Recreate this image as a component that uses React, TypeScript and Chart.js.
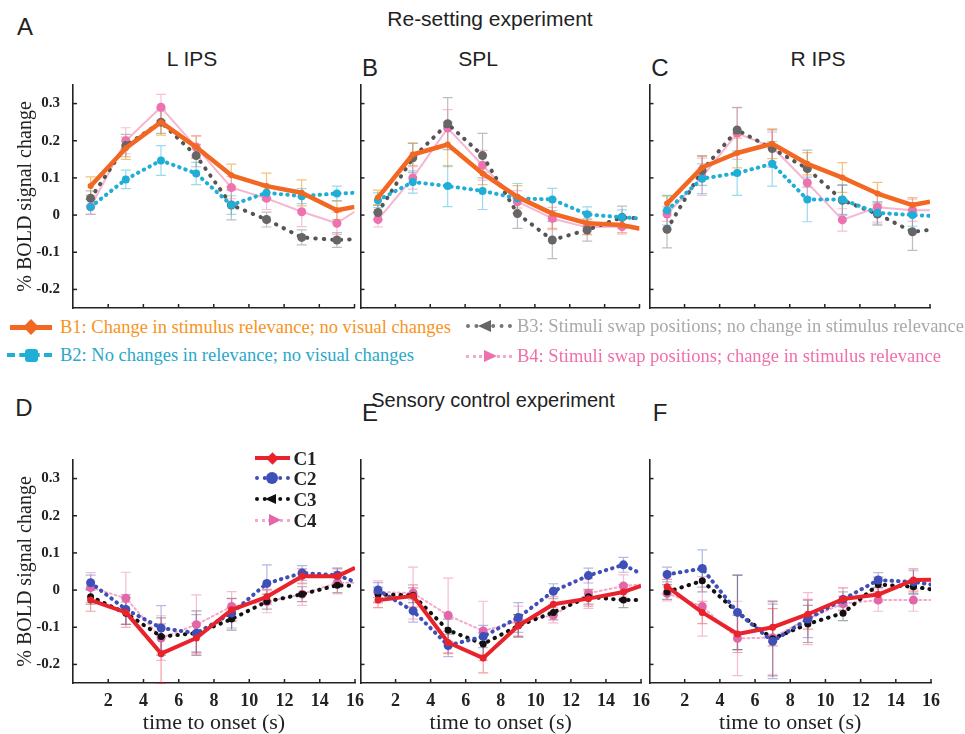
import React, { useEffect, useRef } from "react";
import { Chart, registerables } from "chart.js";
Chart.register(...registerables);

const X_POINTS = [1, 3, 5, 7, 9, 11, 13, 15, 16];
const X_TICKS = [2, 4, 6, 8, 10, 12, 14, 16];
const X_TICK_LABELS = ["2", "4", "6", "8", "10", "12", "14", "16"];
const Y_TICKS = [-0.2, -0.1, 0, 0.1, 0.2, 0.3];
const Y_TICK_LABELS = ["-0.2", "-0.1", "0", "0.1", "0.2", "0.3"];
const Y_MIN = -0.25;
const Y_MAX = 0.35;

// Re-setting experiment — panel A (L IPS)
const A_B1 = [0.078, 0.18, 0.25, 0.183, 0.107, 0.078, 0.06, 0.013, 0.022];
const A_B2 = [0.022, 0.096, 0.147, 0.112, 0.027, 0.06, 0.051, 0.058, 0.06];
const A_B3 = [0.045, 0.187, 0.25, 0.16, 0.027, -0.012, -0.06, -0.067, -0.065];
const A_B4 = [0.022, 0.2, 0.29, 0.183, 0.074, 0.045, 0.009, -0.022, 0.009];
const A_B1_ERR = [0.025, 0.03, 0.035, 0.03, 0.03, 0.035, 0.035, 0.025];
const A_B2_ERR = [0.02, 0.025, 0.04, 0.03, 0.025, 0.02, 0.02, 0.02];
const A_B3_ERR = [0.02, 0.03, 0.03, 0.03, 0.04, 0.02, 0.02, 0.02];
const A_B4_ERR = [0.02, 0.035, 0.035, 0.03, 0.03, 0.03, 0.04, 0.03];

// panel B (SPL)
const B_B1 = [0.047, 0.163, 0.19, 0.112, 0.049, 0.004, -0.022, -0.027, -0.036];
const B_B2 = [0.04, 0.089, 0.078, 0.065, 0.045, 0.042, 0.002, -0.006, -0.009];
const B_B3 = [0.007, 0.154, 0.246, 0.16, 0.004, -0.067, -0.04, -0.006, -0.009];
const B_B4 = [-0.012, 0.1, 0.234, 0.134, 0.036, -0.009, -0.033, -0.031, -0.04];
const B_B1_ERR = [0.02, 0.03, 0.06, 0.03, 0.03, 0.04, 0.03, 0.02];
const B_B2_ERR = [0.02, 0.03, 0.055, 0.05, 0.04, 0.03, 0.02, 0.02];
const B_B3_ERR = [0.02, 0.04, 0.07, 0.06, 0.04, 0.05, 0.03, 0.03];
const B_B4_ERR = [0.02, 0.03, 0.05, 0.04, 0.03, 0.03, 0.02, 0.02];

// panel C (R IPS)
const C_B1 = [0.031, 0.128, 0.167, 0.192, 0.138, 0.101, 0.058, 0.027, 0.036];
const C_B2 = [0.013, 0.098, 0.113, 0.138, 0.042, 0.042, 0.006, 0.0, -0.002];
const C_B3 = [-0.038, 0.12, 0.229, 0.179, 0.125, 0.04, 0.003, -0.045, -0.04];
const C_B4 = [0.003, 0.103, 0.22, 0.183, 0.087, -0.013, 0.021, 0.013, 0.013];
const C_B1_ERR = [0.02, 0.03, 0.04, 0.04, 0.03, 0.04, 0.03, 0.02];
const C_B2_ERR = [0.04, 0.04, 0.06, 0.06, 0.06, 0.04, 0.03, 0.03];
const C_B3_ERR = [0.05, 0.04, 0.06, 0.05, 0.05, 0.04, 0.03, 0.05];
const C_B4_ERR = [0.02, 0.05, 0.07, 0.04, 0.04, 0.03, 0.04, 0.03];

// Sensory control experiment — panel D
const D_C1 = [-0.027, -0.06, -0.171, -0.129, -0.053, -0.018, 0.037, 0.037, 0.06];
const D_C2 = [0.02, -0.052, -0.102, -0.116, -0.062, 0.018, 0.046, 0.04, 0.022];
const D_C3 = [-0.018, -0.062, -0.125, -0.116, -0.078, -0.031, -0.011, 0.013, 0.011];
const D_C4 = [0.007, -0.022, -0.129, -0.093, -0.044, -0.031, -0.011, 0.02, 0.02];
const D_C1_ERR = [0.03, 0.04, 0.08, 0.04, 0.03, 0.02, 0.02, 0.02];
const D_C2_ERR = [0.02, 0.04, 0.06, 0.05, 0.04, 0.05, 0.02, 0.02];
const D_C3_ERR = [0.02, 0.03, 0.05, 0.06, 0.03, 0.02, 0.02, 0.02];
const D_C4_ERR = [0.04, 0.07, 0.06, 0.08, 0.04, 0.03, 0.03, 0.03];

// panel E
const E_C1 = [-0.027, -0.016, -0.141, -0.183, -0.096, -0.038, -0.023, -0.005, 0.011];
const E_C2 = [0.0, -0.056, -0.149, -0.125, -0.074, -0.003, 0.039, 0.068, 0.044];
const E_C3 = [-0.012, -0.014, -0.108, -0.145, -0.096, -0.06, -0.018, -0.027, -0.027];
const E_C4 = [-0.005, -0.008, -0.068, -0.11, -0.083, -0.068, -0.009, 0.011, 0.015];
const E_C1_ERR = [0.02, 0.03, 0.03, 0.04, 0.03, 0.02, 0.02, 0.02];
const E_C2_ERR = [0.02, 0.03, 0.03, 0.03, 0.04, 0.02, 0.02, 0.02];
const E_C3_ERR = [0.02, 0.02, 0.03, 0.03, 0.03, 0.02, 0.02, 0.02];
const E_C4_ERR = [0.03, 0.07, 0.1, 0.08, 0.04, 0.02, 0.04, 0.03];

// panel F
const F_C1 = [0.009, -0.06, -0.118, -0.1, -0.065, -0.024, -0.012, 0.027, 0.028];
const F_C2 = [0.042, 0.058, -0.06, -0.138, -0.078, -0.025, 0.027, 0.022, 0.015];
const F_C3 = [-0.005, 0.025, -0.06, -0.131, -0.091, -0.062, 0.015, 0.009, 0.002];
const F_C4 = [-0.009, -0.044, -0.13, -0.128, -0.077, -0.036, -0.027, -0.027, -0.027];
const F_C1_ERR = [0.02, 0.03, 0.05, 0.05, 0.04, 0.03, 0.02, 0.03];
const F_C2_ERR = [0.02, 0.05, 0.1, 0.1, 0.05, 0.02, 0.02, 0.03];
const F_C3_ERR = [0.02, 0.03, 0.1, 0.1, 0.05, 0.02, 0.02, 0.02];
const F_C4_ERR = [0.02, 0.08, 0.1, 0.1, 0.07, 0.02, 0.03, 0.03];

type Style = {
  label: string;
  line: string;
  width: number;
  dash: number[];
  point: string;
  radius: number;
  err: string;
};

const B_STYLES: Style[] = [
  { label: "B1", line: "#f26722", width: 4.5, dash: [], point: "#f26722", radius: 3, err: "rgba(247,148,29,0.6)" },
  { label: "B2", line: "#1eaed6", width: 4, dash: [0.5, 6], point: "#1eaed6", radius: 4, err: "rgba(30,174,214,0.45)" },
  { label: "B3", line: "#555555", width: 4, dash: [0.5, 8], point: "#666666", radius: 4.5, err: "rgba(110,110,110,0.45)" },
  { label: "B4", line: "#f6b5d2", width: 2, dash: [], point: "#ec72b0", radius: 4.5, err: "rgba(240,130,180,0.5)" },
];

const C_STYLES: Style[] = [
  { label: "C1", line: "#e8232b", width: 4, dash: [], point: "#e8232b", radius: 3.5, err: "rgba(232,35,43,0.45)" },
  { label: "C2", line: "#3f4fb8", width: 4, dash: [0.5, 6], point: "#3f4fb8", radius: 4.5, err: "rgba(63,79,184,0.4)" },
  { label: "C3", line: "#111111", width: 4, dash: [0.5, 7], point: "#111111", radius: 3.5, err: "rgba(40,40,40,0.4)" },
  { label: "C4", line: "#f4a9cc", width: 2, dash: [2, 3], point: "#e266a8", radius: 4.5, err: "rgba(240,120,170,0.5)" },
];

const SERIF = '"Liberation Serif", "Times New Roman", serif';
const SANS = '"Liberation Sans", Arial, sans-serif';

const errorBarPlugin = {
  id: "errorBars",
  beforeDatasetsDraw(chart: any) {
    const { ctx, scales } = chart;
    const xs = scales.x;
    const ys = scales.y;
    chart.data.datasets.forEach((ds: any) => {
      ctx.save();
      ctx.strokeStyle = ds.errColor;
      ctx.lineWidth = 1.2;
      ds.errors.forEach((e: number, i: number) => {
        const p = ds.data[i];
        const px = xs.getPixelForValue(p.x);
        const top = ys.getPixelForValue(p.y + e);
        const bot = ys.getPixelForValue(p.y - e);
        ctx.beginPath();
        ctx.moveTo(px, top);
        ctx.lineTo(px, bot);
        ctx.moveTo(px - 5, top);
        ctx.lineTo(px + 5, top);
        ctx.moveTo(px - 5, bot);
        ctx.lineTo(px + 5, bot);
        ctx.stroke();
      });
      ctx.restore();
    });
  },
};

const innerTickPlugin = {
  id: "innerTicks",
  afterDraw(chart: any) {
    const { ctx, chartArea: a, scales } = chart;
    ctx.save();
    ctx.strokeStyle = "#222";
    ctx.lineWidth = 1.5;
    X_TICKS.forEach((v) => {
      const px = scales.x.getPixelForValue(v);
      ctx.beginPath();
      ctx.moveTo(px, a.bottom);
      ctx.lineTo(px, a.bottom - 4);
      ctx.stroke();
    });
    Y_TICKS.forEach((v) => {
      const py = scales.y.getPixelForValue(v);
      ctx.beginPath();
      ctx.moveTo(a.left, py);
      ctx.lineTo(a.left + 4, py);
      ctx.stroke();
    });
    ctx.restore();
  },
};

type Series = { data: number[]; err: number[]; style: Style };

type PanelProps = {
  left: number;
  top: number;
  yAxisW: number;
  plotW: number;
  plotH: number;
  padTop: number;
  padRight: number;
  xAxisH: number;
  series: Series[];
  yLabels: boolean;
  xLabels: boolean;
};

function Panel(props: PanelProps) {
  const ref = useRef<HTMLCanvasElement>(null);
  const { left, top, yAxisW, plotW, plotH, padTop, padRight, xAxisH, series, yLabels, xLabels } = props;
  const width = yAxisW + plotW + padRight;
  const height = padTop + plotH + xAxisH;

  useEffect(() => {
    const cfg: any = {
      type: "line",
      data: {
        datasets: series.map((s) => ({
          label: s.style.label,
          data: X_POINTS.map((x, i) => ({ x, y: s.data[i] })),
          borderColor: s.style.line,
          borderWidth: s.style.width,
          borderDash: s.style.dash,
          borderCapStyle: s.style.dash.length ? "round" : "butt",
          borderJoinStyle: "round",
          pointRadius: X_POINTS.map((_, i) => (i < s.err.length ? s.style.radius : 0)),
          pointBackgroundColor: s.style.point,
          pointBorderColor: s.style.point,
          pointBorderWidth: 0,
          pointStyle: "circle",
          tension: 0,
          fill: false,
          errors: s.err,
          errColor: s.style.err,
        })),
      },
      options: {
        animation: false,
        responsive: false,
        devicePixelRatio: 1,
        layout: { padding: { top: padTop, right: padRight, left: 0, bottom: 0 } },
        plugins: { legend: { display: false }, tooltip: { enabled: false } },
        scales: {
          x: {
            type: "linear",
            min: 0,
            max: 16,
            afterBuildTicks: (s: any) => {
              s.ticks = X_TICKS.map((v) => ({ value: v }));
            },
            afterFit: (s: any) => {
              s.height = xAxisH;
              s.paddingLeft = 0;
              s.paddingRight = 0;
            },
            grid: { display: false, drawTicks: false },
            border: { display: true, color: "#222", width: 1.6 },
            ticks: {
              display: xLabels,
              padding: 8,
              autoSkip: false,
              maxRotation: 0,
              color: "#222",
              font: { family: SERIF, size: 18, weight: "bold" },
              callback: (v: number) => X_TICK_LABELS[X_TICKS.indexOf(v)],
            },
            title: {
              display: xLabels,
              text: "time to onset (s)",
              color: "#222",
              font: { family: SERIF, size: 22, lineHeight: 1 },
              padding: { top: 0, bottom: 0 },
            },
          },
          y: {
            type: "linear",
            min: Y_MIN,
            max: Y_MAX,
            afterBuildTicks: (s: any) => {
              s.ticks = Y_TICKS.map((v) => ({ value: v }));
            },
            afterFit: (s: any) => {
              s.width = yAxisW;
              s.paddingTop = 0;
              s.paddingBottom = 0;
            },
            grid: { display: false, drawTicks: false },
            border: { display: true, color: "#222", width: 1.6 },
            ticks: {
              display: yLabels,
              padding: 13,
              color: "#222",
              font: { family: SERIF, size: 15, weight: "bold" },
              callback: (v: number) => Y_TICK_LABELS[Y_TICKS.indexOf(v)],
            },
            title: {
              display: yLabels,
              text: "% BOLD signal change",
              color: "#222",
              font: { family: SERIF, size: 20, lineHeight: 1.2 },
              padding: { top: 14, bottom: 0 },
            },
          },
        },
      },
      plugins: [errorBarPlugin, innerTickPlugin],
    };
    const chart = new Chart(ref.current as HTMLCanvasElement, cfg);
    return () => chart.destroy();
  }, []);

  return (
    <canvas
      ref={ref}
      width={width}
      height={height}
      style={{ position: "absolute", left, top, width, height }}
    />
  );
}

function Label(p: { x: number; y: number; text: string; size: number; color?: string; family?: string; weight?: string }) {
  return (
    <div
      style={{
        position: "absolute",
        left: p.x,
        top: p.y,
        transform: "translate(-50%, -50%)",
        fontFamily: p.family || SANS,
        fontSize: p.size,
        fontWeight: (p.weight as any) || "normal",
        lineHeight: 1,
        whiteSpace: "nowrap",
        color: p.color || "#222",
      }}
    >
      {p.text}
    </div>
  );
}

type Marker = "diamond" | "square" | "circle" | "left" | "right";

function Swatch(p: { x: number; y: number; w: number; color: string; lineStyle: string; lineW: number; marker: Marker; markerColor: string; mx: number; size: number }) {
  const line: any = {
    position: "absolute",
    left: p.x,
    top: p.y - p.lineW / 2,
    width: p.w,
    height: 0,
    borderTop: `${p.lineW}px ${p.lineStyle} ${p.color}`,
  };
  let m: any = { position: "absolute" };
  const s = p.size;
  if (p.marker === "diamond") {
    m = { ...m, left: p.mx - s / 2, top: p.y - s / 2, width: s, height: s, background: p.markerColor, transform: "rotate(45deg) scale(0.8)" };
  } else if (p.marker === "square") {
    m = { ...m, left: p.mx - s / 2, top: p.y - s / 2, width: s, height: s, background: p.markerColor, borderRadius: 3 };
  } else if (p.marker === "circle") {
    m = { ...m, left: p.mx - s / 2, top: p.y - s / 2, width: s, height: s, background: p.markerColor, borderRadius: "50%" };
  } else if (p.marker === "left") {
    m = { ...m, left: p.mx - s / 2, top: p.y - s / 2, width: 0, height: 0, borderTop: `${s / 2}px solid transparent`, borderBottom: `${s / 2}px solid transparent`, borderRight: `${s}px solid ${p.markerColor}` };
  } else {
    m = { ...m, left: p.mx - s / 2, top: p.y - s / 2, width: 0, height: 0, borderTop: `${s / 2}px solid transparent`, borderBottom: `${s / 2}px solid transparent`, borderLeft: `${s}px solid ${p.markerColor}` };
  }
  return (
    <>
      <div style={line} />
      <div style={m} />
    </>
  );
}

const mk = (data: number[], err: number[], style: Style): Series => ({ data, err, style });

const legendText = (left: number, top: number, color: string, text: string) => (
  <div style={{ position: "absolute", left, top, fontFamily: SERIF, fontSize: 18.5, lineHeight: "20px", color, whiteSpace: "nowrap" }}>
    {text}
  </div>
);

export default function App() {
  const TOP_Y = 80;
  const BOT_Y = 455;
  const topCommon = { padTop: 5, plotH: 223, xAxisH: 6, xLabels: false };
  const botCommon = { padTop: 5, plotH: 223, xAxisH: 51, xLabels: true };

  return (
    <div style={{ position: "absolute", left: 0, top: 0, width: 965, height: 734, background: "#fff", overflow: "hidden" }}>
      <Label x={25} y={27} text="A" size={24} />
      <Label x={490} y={18} text="Re-setting experiment" size={21} />
      <Label x={192} y={58} text="L IPS" size={21} />
      <Label x={370} y={68} text="B" size={24} />
      <Label x={478} y={58} text="SPL" size={21} />
      <Label x={660} y={68} text="C" size={24} />
      <Label x={818} y={58} text="R IPS" size={21} />

      <Panel left={0} top={TOP_Y} yAxisW={73} plotW={282} padRight={4} yLabels={true} {...topCommon}
        series={[mk(A_B1, A_B1_ERR, B_STYLES[0]), mk(A_B2, A_B2_ERR, B_STYLES[1]), mk(A_B3, A_B3_ERR, B_STYLES[2]), mk(A_B4, A_B4_ERR, B_STYLES[3])]} />
      <Panel left={356} top={TOP_Y} yAxisW={4} plotW={280} padRight={4} yLabels={false} {...topCommon}
        series={[mk(B_B1, B_B1_ERR, B_STYLES[0]), mk(B_B2, B_B2_ERR, B_STYLES[1]), mk(B_B3, B_B3_ERR, B_STYLES[2]), mk(B_B4, B_B4_ERR, B_STYLES[3])]} />
      <Panel left={645} top={TOP_Y} yAxisW={4} plotW={281} padRight={6} yLabels={false} {...topCommon}
        series={[mk(C_B1, C_B1_ERR, B_STYLES[0]), mk(C_B2, C_B2_ERR, B_STYLES[1]), mk(C_B3, C_B3_ERR, B_STYLES[2]), mk(C_B4, C_B4_ERR, B_STYLES[3])]} />

      <Swatch x={10} y={327} w={42} color="#f26722" lineStyle="solid" lineW={5} marker="diamond" markerColor="#f26722" mx={31} size={14} />
      {legendText(60, 317, "#f7941d", "B1: Change in stimulus relevance; no visual changes")}
      <Swatch x={7} y={355} w={45} color="#1eaed6" lineStyle="dashed" lineW={4} marker="square" markerColor="#1eaed6" mx={31} size={13} />
      {legendText(60, 345, "#29a8c9", "B2: No changes in relevance; no visual changes")}
      <Swatch x={466} y={326} w={46} color="#777777" lineStyle="dotted" lineW={4} marker="left" markerColor="#666666" mx={484} size={13} />
      {legendText(517, 316, "#a9a9a9", "B3: Stimuli swap positions; no change in stimulus relevance")}
      <Swatch x={466} y={356} w={46} color="#f4a9cc" lineStyle="dotted" lineW={3} marker="right" markerColor="#ee6fae" mx={490} size={13} />
      {legendText(517, 346, "#f06eaa", "B4: Stimuli swap positions; change in stimulus relevance")}

      <Label x={24} y={408} text="D" size={24} />
      <Label x={493} y={400} text="Sensory control experiment" size={20} />
      <Label x={370} y={413} text="E" size={24} />
      <Label x={660} y={413} text="F" size={24} />

      <Panel left={0} top={BOT_Y} yAxisW={73} plotW={282} padRight={14} yLabels={true} {...botCommon}
        series={[mk(D_C1, D_C1_ERR, C_STYLES[0]), mk(D_C2, D_C2_ERR, C_STYLES[1]), mk(D_C3, D_C3_ERR, C_STYLES[2]), mk(D_C4, D_C4_ERR, C_STYLES[3])]} />
      <Panel left={356} top={BOT_Y} yAxisW={4} plotW={281} padRight={14} yLabels={false} {...botCommon}
        series={[mk(E_C1, E_C1_ERR, C_STYLES[0]), mk(E_C2, E_C2_ERR, C_STYLES[1]), mk(E_C3, E_C3_ERR, C_STYLES[2]), mk(E_C4, E_C4_ERR, C_STYLES[3])]} />
      <Panel left={645} top={BOT_Y} yAxisW={4} plotW={282} padRight={14} yLabels={false} {...botCommon}
        series={[mk(F_C1, F_C1_ERR, C_STYLES[0]), mk(F_C2, F_C2_ERR, C_STYLES[1]), mk(F_C3, F_C3_ERR, C_STYLES[2]), mk(F_C4, F_C4_ERR, C_STYLES[3])]} />

      <Swatch x={255} y={458} w={35} color="#e8232b" lineStyle="solid" lineW={4} marker="diamond" markerColor="#e8232b" mx={272} size={11} />
      <Label x={305} y={458} text="C1" size={19} family={SERIF} weight="bold" />
      <Swatch x={255} y={478} w={35} color="#3f4fb8" lineStyle="dotted" lineW={4} marker="circle" markerColor="#3f4fb8" mx={272} size={12} />
      <Label x={305} y={478} text="C2" size={19} family={SERIF} weight="bold" />
      <Swatch x={255} y={499} w={35} color="#111111" lineStyle="dotted" lineW={4} marker="left" markerColor="#111111" mx={270} size={11} />
      <Label x={305} y={499} text="C3" size={19} family={SERIF} weight="bold" />
      <Swatch x={255} y={520} w={35} color="#f4a9cc" lineStyle="dotted" lineW={3} marker="right" markerColor="#e266a8" mx={275} size={12} />
      <Label x={305} y={520} text="C4" size={19} family={SERIF} weight="bold" />
    </div>
  );
}
